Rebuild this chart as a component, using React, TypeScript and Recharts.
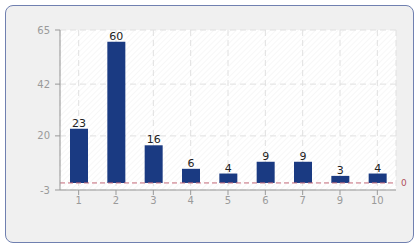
import { BarChart, Bar, XAxis, YAxis, CartesianGrid, ReferenceLine, LabelList } from "recharts";

const categories = ["1", "2", "3", "4", "5", "6", "7", "9", "10"];
const values = [23, 60, 16, 6, 4, 9, 9, 3, 4];
const yTicks = [-3, 20, 42, 65];

const data = categories.map((name, i) => ({ name, value: values[i] }));

const tickStyle = { fontSize: 10, fill: "#9a9a9a", fontFamily: "DejaVu Sans, Verdana, sans-serif" };

export default function App() {
  return (
    <div style={{ position: "absolute", left: 0, top: 0, width: 420, height: 250 }}>
      {/* outer rounded frame */}
      <div
        style={{
          position: "absolute",
          left: 5,
          top: 5,
          width: 407,
          height: 236,
          border: "1px solid #7080b0",
          borderRadius: 8,
          background: "#f0f0f0",
        }}
      />
      <div style={{ position: "absolute", left: 0, top: 0 }}>
        <BarChart width={420} height={250} data={data} margin={{ top: 30, right: 24, bottom: 30, left: 0 }}>
          <defs>
            <pattern id="hatch" width="4" height="4" patternUnits="userSpaceOnUse" patternTransform="rotate(45)">
              <rect width="4" height="4" fill="#ffffff" />
              <line x1="0" y1="0" x2="0" y2="4" stroke="#efefef" strokeWidth="1" />
            </pattern>
          </defs>
          <CartesianGrid stroke="#e0e0e0" strokeDasharray="6 4" fill="url(#hatch)" />
          <XAxis
            dataKey="name"
            height={30}
            tick={tickStyle}
            tickLine={{ stroke: "#999" }}
            axisLine={{ stroke: "#999" }}
            tickSize={5}
          />
          <YAxis
            width={60}
            domain={[-3, 65]}
            ticks={yTicks}
            interval={0}
            tick={{ ...tickStyle, dx: -3 }}
            tickLine={{ stroke: "#999" }}
            axisLine={{ stroke: "#999" }}
            tickSize={5}
          />
          <ReferenceLine
            y={0}
            stroke="#c26878"
            strokeDasharray="5 3"
            label={{ value: "0", position: "right", fill: "#b05060", fontSize: 9, fontFamily: "DejaVu Sans, sans-serif" }}
          />
          <Bar dataKey="value" fill="#1a3a82" barSize={18} isAnimationActive={false}>
            <LabelList
              dataKey="value"
              position="top"
              offset={2}
              style={{ fontSize: 11, fill: "#222", fontFamily: "DejaVu Sans, Verdana, sans-serif" }}
            />
          </Bar>
        </BarChart>
      </div>
    </div>
  );
}
